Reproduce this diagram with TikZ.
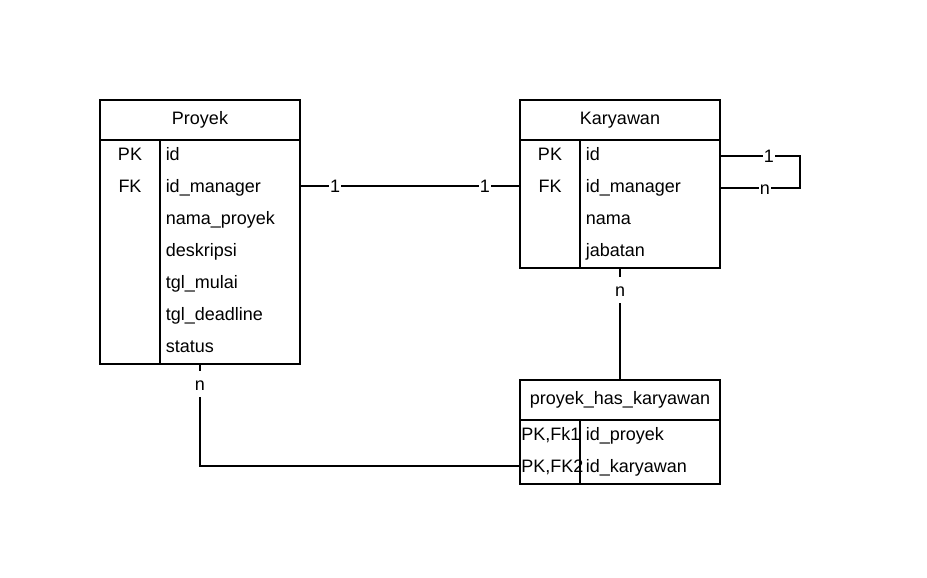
\documentclass[tikz,border=0pt]{standalone}
\usepackage{fontspec}
\setmainfont{Liberation Sans}
\begin{document}
\begin{tikzpicture}[x=1pt, y=-1pt, line width=1.5pt,
  tbl/.style={draw, outer sep=0pt, minimum width=200pt},
  txt/.style={inner sep=0pt, text height=12.9pt, text depth=0pt, font=\fontsize{18}{21}\selectfont},
  fld/.style={txt, anchor=west},
  lbl/.style={txt, fill=white, inner xsep=1pt, inner ysep=3pt},
  vlbl/.style={lbl, inner ysep=6.5pt}]
  \useasboundingbox (0,0) rectangle (927,578);
  % Proyek
  \node[tbl, minimum height=264pt] (proyek) at (200,232) {};
  \node[txt] (tproyek) at (200,118) {Proyek};
  \draw ([yshift=-40pt]proyek.north west) -- ([yshift=-40pt]proyek.north east);
  \draw ([shift={(60pt,-40pt)}]proyek.north west) -- ([xshift=60pt]proyek.south west);
  \node[txt] (ppk) at (130,154) {PK};
  \node[txt] (pfk) at (130,186) {FK};
  \foreach \t [count=\i] in {id,id\_manager,nama\_proyek,deskripsi,tgl\_mulai,tgl\_deadline,status}
    \node[fld] (p\i) at (165,122+32*\i) {\t};
  % Karyawan
  \node[tbl, minimum height=168pt] (kar) at (620,184) {};
  \node[txt] (tkar) at (620,118) {Karyawan};
  \draw ([yshift=-40pt]kar.north west) -- ([yshift=-40pt]kar.north east);
  \draw ([shift={(60pt,-40pt)}]kar.north west) -- ([xshift=60pt]kar.south west);
  \node[txt] (kpk) at (550,154) {PK};
  \node[txt] (kfk) at (550,186) {FK};
  \foreach \t [count=\i] in {id,id\_manager,nama,jabatan}
    \node[fld] (k\i) at (585,122+32*\i) {\t};
  % proyek_has_karyawan
  \node[tbl, minimum height=104pt] (phk) at (620,432) {};
  \node[txt] (tphk) at (620,398) {proyek\_has\_karyawan};
  \draw ([yshift=-40pt]phk.north west) -- ([yshift=-40pt]phk.north east);
  \draw ([shift={(60pt,-40pt)}]phk.north west) -- ([xshift=60pt]phk.south west);
  \node[fld] (hk1) at (520.5,434) {PK,Fk1};
  \node[fld] (hk2) at (520.5,466) {PK,FK2};
  \node[fld] (h1) at (585,434) {id\_proyek};
  \node[fld] (h2) at (585,466) {id\_karyawan};
  % relasi
  \draw (proyek.east |- p2) -- node[lbl, pos=.16] {1} node[lbl, pos=.84] {1} (kar.west |- p2);
  \draw ([yshift=-2pt]kar.east |- k1) -- node[lbl, pos=.61] {1} ++(80,0) |- node[lbl, pos=.72] {n} ([yshift=-2pt]kar.east |- k2);
  \draw (kar.south) -- node[vlbl, pos=.2] {n} (phk.north);
  \draw (proyek.south) |- node[vlbl, pos=.1] {n} (phk.west |- h2);
\end{tikzpicture}
\end{document}
